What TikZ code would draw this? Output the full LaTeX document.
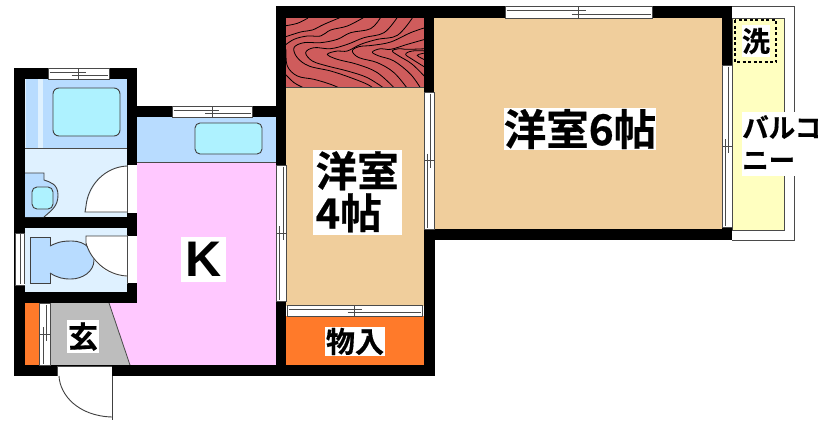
\documentclass[tikz,border=0pt]{standalone}
\usepackage{fontspec}
\setmainfont{Liberation Sans}
\newfontfamily\jpfont[FakeBold=0.5]{Noto Sans CJK JP Bold}
\definecolor{peach}{HTML}{F0CE9C}
\definecolor{pinkk}{HTML}{FFC8FF}
\definecolor{blueb}{HTML}{B8DCFF}
\definecolor{cyanb}{HTML}{AEF2FF}
\definecolor{paleb}{HTML}{DFF1FF}
\definecolor{yelb}{HTML}{FFFFC0}
\definecolor{oran}{HTML}{FF7A2A}
\definecolor{woodr}{HTML}{CF5C5C}
\definecolor{greyb}{HTML}{BDBDBD}
\definecolor{lineg}{HTML}{4A4A4A}
\tikzset{
  x=1pt,y=-1pt,
  wall/.style={fill=black,draw=none},
  fix/.style={draw=black!75,line width=.9pt},
  wood/.style={draw=black,line width=.8pt,smooth,tension=.6},
  lab/.style={fill=white,inner sep=0pt,font=\jpfont,text=black,align=center},
}
\newcommand{\hwin}[4]{% x1 x2 y1 y2
  \fill[white] (#1,#3) rectangle (#2,#4);
  \draw[draw=lineg,line width=.7pt] (#1,#3) rectangle (#2,#4);
  \pgfmathsetmacro{\wm}{(#1+#2)/2}\pgfmathsetmacro{\wa}{#3+(#4-#3)*.36}\pgfmathsetmacro{\wb}{#3+(#4-#3)*.68}
  \draw[draw=lineg,line width=.9pt] (#1+1.5,\wa) -- (\wm+7,\wa) (\wm-7,\wb) -- (#2-1.5,\wb) (\wm,#3) -- (\wm,#4);
}
\newcommand{\vwin}[4]{% x1 x2 y1 y2
  \fill[white] (#1,#3) rectangle (#2,#4);
  \draw[draw=lineg,line width=.7pt] (#1,#3) rectangle (#2,#4);
  \pgfmathsetmacro{\wm}{(#3+#4)/2}\pgfmathsetmacro{\wa}{#1+(#2-#1)*.68}\pgfmathsetmacro{\wb}{#1+(#2-#1)*.36}
  \draw[draw=lineg,line width=.9pt] (\wa,#3+1.5) -- (\wa,\wm+7) (\wb,\wm-7) -- (\wb,#4-1.5) (#1,\wm) -- (#2,\wm);
}
\begin{document}
\begin{tikzpicture}
\useasboundingbox (0,0) rectangle (829,421);
\fill[white] (0,0) rectangle (829,421);
% balcony
\draw[draw=lineg,line width=.9pt] (732,6.5) -- (794,6.5) -- (794,240) -- (732,240);
\draw[fill=yelb,draw=lineg,line width=.9pt] (732,18) rectangle (784,230);
\draw[draw=black,line width=1.1pt,dashed,dash pattern=on 3pt off 2.5pt] (735,20) rectangle (776,62);
% rooms
\fill[peach] (434,18) rectangle (722,230);
\fill[peach] (286,87) rectangle (424,306);
\fill[woodr] (286,18) rectangle (424,87);
\fill[oran] (286,316) rectangle (424,366);
\fill[pinkk] (137,162) -- (276,162) -- (276,365) -- (130,365) -- (109,303) -- (137,303) -- cycle;
\fill[blueb] (137,117) rectangle (276,162);
\draw[draw=lineg,line width=.7pt] (137,162) -- (276,162);
\fill[paleb] (25,79) rectangle (127,217);
\fill[blueb] (26,79) rectangle (38,148);
\fill[blueb] (43,79) rectangle (127,148);
\fill[paleb] (25,228) rectangle (127,292);
\fill[greyb] (50,303) -- (109,303) -- (130,365) -- (50,365) -- cycle;
\draw[draw=lineg,line width=.8pt] (109,303) -- (130,365);
\fill[oran] (25,303) rectangle (39,365);
% wood grain
\begin{scope}
\clip (286,18) rectangle (424,87);
\begin{scope}[shift={(284,16)},x=.3333pt,y=-.3333pt]
\draw[wood] plot coordinates {(0,30) (40,22) (72,6)};
\draw[wood] plot coordinates {(0,64) (50,48) (85,42) (120,25) (170,4)};
\draw[wood] plot coordinates {(0,90) (30,70) (70,60) (110,60) (140,42) (190,30) (240,4)};
\draw[wood] plot coordinates {(290,4) (260,38) (200,50) (160,70) (110,80) (60,80) (30,95) (40,125) (75,150) (140,165) (200,185) (250,205) (272,220)};
\draw[wood] plot coordinates {(340,4) (300,50) (240,65) (190,85) (140,98) (90,95) (65,110) (85,135) (130,150) (190,165) (250,185) (305,220)};
\draw[wood] plot coordinates {(385,6) (340,58) (280,70) (230,85) (190,105) (160,105) (130,115) (160,130) (220,145) (280,170) (335,220)};
\draw[wood] plot coordinates {(430,33) (380,50) (320,78) (265,88) (225,92) (205,105) (225,125) (280,140) (330,170) (372,220)};
\draw[wood] plot coordinates {(430,68) (370,85) (320,100) (290,98) (265,108) (285,120) (330,135) (380,175) (412,220)};
\draw[wood] plot coordinates {(430,98) (370,100) (345,98) (325,105) (345,120) (385,145) (430,190)};
\draw[wood] plot coordinates {(430,105) (385,105) (365,115) (385,130) (430,158)};
\draw[wood] plot coordinates {(430,110) (400,118) (430,135)};
\draw[wood] plot coordinates {(6,100) (10,150) (40,180) (90,190) (140,205) (175,220)};
\draw[wood] plot coordinates {(0,170) (30,200) (65,218)};
\end{scope}
\end{scope}
\draw[draw=lineg,line width=.7pt] (286,87) -- (424,87);
% walls
\fill[wall] (14,68) rectangle (25,376);
\fill[wall] (14,68) rectangle (137,79);
\fill[wall] (127,68) rectangle (137,228);
\fill[wall] (137,106) rectangle (286,117);
\fill[wall] (14,217) rectangle (137,228);
\fill[wall] (127,217) rectangle (137,303);
\fill[wall] (14,292) rectangle (137,303);
\fill[wall] (14,365) rectangle (435,376);
\fill[wall] (276,6) rectangle (286,376);
\fill[wall] (276,6) rectangle (732,18);
\fill[wall] (424,6) rectangle (434,92);
\fill[wall] (722,6) rectangle (732,240);
\fill[wall] (424,229) rectangle (732,240);
\fill[wall] (424,229) rectangle (435,376);
% windows
\hwin{48}{109}{68.5}{79}
\hwin{172}{252}{106.5}{117}
\hwin{505}{652}{6.5}{18}
\hwin{287}{422}{305}{316}
\vwin{276.5}{286}{165}{301}
\vwin{424}{434}{92}{229}
\vwin{722}{732}{65}{227}
\vwin{39}{50}{303}{365}
\fill[white] (15,233) rectangle (25,285);
\draw[draw=lineg,line width=.7pt] (15,233) -- (25,233) (15,285) -- (25,285) (15,233) -- (15,285);
\draw[draw=lineg,line width=.9pt] (20,234) -- (20,284) (24,234) -- (24,284);
\fill[white] (127,165) rectangle (137,213);
\fill[white] (127,236) rectangle (137,283);
\fill[white] (58,366) rectangle (112,376);
\draw[draw=lineg,line width=.7pt] (57,366) -- (112,366) (57,366) -- (57,376);
% fixtures
\draw[fix,fill=cyanb,rounded corners=6pt] (53,88) rectangle (120,136);
\draw[fix,fill=cyanb,rounded corners=5pt] (195,123) rectangle (262,154);
\draw[draw=lineg,line width=.6pt] (25,148) -- (127,148);
% wash basin
\draw[fill=blueb,draw=none] (25,173) -- (44,173) -- (44,180) .. controls (50,182) and (58,184) .. (58,195) .. controls (58,206) and (52,210) .. (44,217) -- (25,217) -- cycle;
\draw[fix] (25,173) -- (44,173) -- (44,180) .. controls (50,182) and (58,184) .. (58,195) .. controls (58,206) and (52,210) .. (44,217);
\draw[fix,fill=cyanb,rounded corners=5pt] (32,187) rectangle (53,209);
% bath door
\fill[white] (127,166) .. controls (105,167) and (88,185) .. (86,212) -- (127,212) -- cycle;
\draw[fix] (127,166) .. controls (105,167) and (88,185) .. (86,206) -- (85,212) -- (127,212);
\draw[draw=lineg,line width=.7pt] (127,165) -- (127,213);
% toilet
\draw[fix,fill=blueb] (30,237) rectangle (50,283);
\draw[fix,fill=blueb] (50,246) .. controls (60,241) and (65,241) .. (72,241) .. controls (85,241) and (94,250) .. (94,260) .. controls (94,272) and (82,279) .. (71,279) .. controls (63,279) and (58,278) .. (50,273);
\fill[white] (86,236) -- (127,236) -- (127,277) .. controls (112,276) and (96,268) .. (90,252) -- (86,243) -- cycle;
\draw[fix] (127,236) -- (86,236) -- (86,243) .. controls (90,258) and (105,275) .. (127,276);
\draw[draw=lineg,line width=.7pt] (127,235) -- (127,284);
% entrance door
\draw[fix] (112,376) -- (112,420);
\draw[fix] (59,376) .. controls (60,395) and (78,416) .. (112,417);
% labels
\node[lab,minimum width=45pt,minimum height=45pt,font=\bfseries\fontsize{50}{50}\selectfont] (k) at (203.5,259.5) {K};
\node[lab,minimum width=152pt,minimum height=42pt,font=\jpfont\fontsize{42.5}{42.5}\selectfont] (r6) at (580,129) {洋室6帖};
\fill[white] (313,150) rectangle (402,235);
\node[inner sep=0pt,anchor=north west,align=left,font=\jpfont\fontsize{41.5}{42}\selectfont] (r4) at (315.5,151) {洋室\\4帖};
\node[lab,minimum width=32pt,minimum height=33pt,font=\jpfont\fontsize{30}{30}\selectfont] (gen) at (83,336.5) {玄};
\node[lab,minimum width=60pt,minimum height=29pt,font=\jpfont\fontsize{29}{29}\selectfont] (mono) at (355,341.5) {物入};
\node[lab,minimum width=28pt,minimum height=32pt,font=\jpfont\fontsize{28}{28}\selectfont] (sen) at (756,41) {洗};
\fill[white] (742,112) rectangle (822,176);
\node[inner sep=0pt,anchor=west,font=\jpfont\fontsize{26.5}{26.5}\selectfont] (b1) at (742,127) {バルコ};
\node[inner sep=0pt,anchor=west,font=\jpfont\fontsize{26.5}{26.5}\selectfont] (b2) at (742,161) {ニー};
\end{tikzpicture}
\end{document}
